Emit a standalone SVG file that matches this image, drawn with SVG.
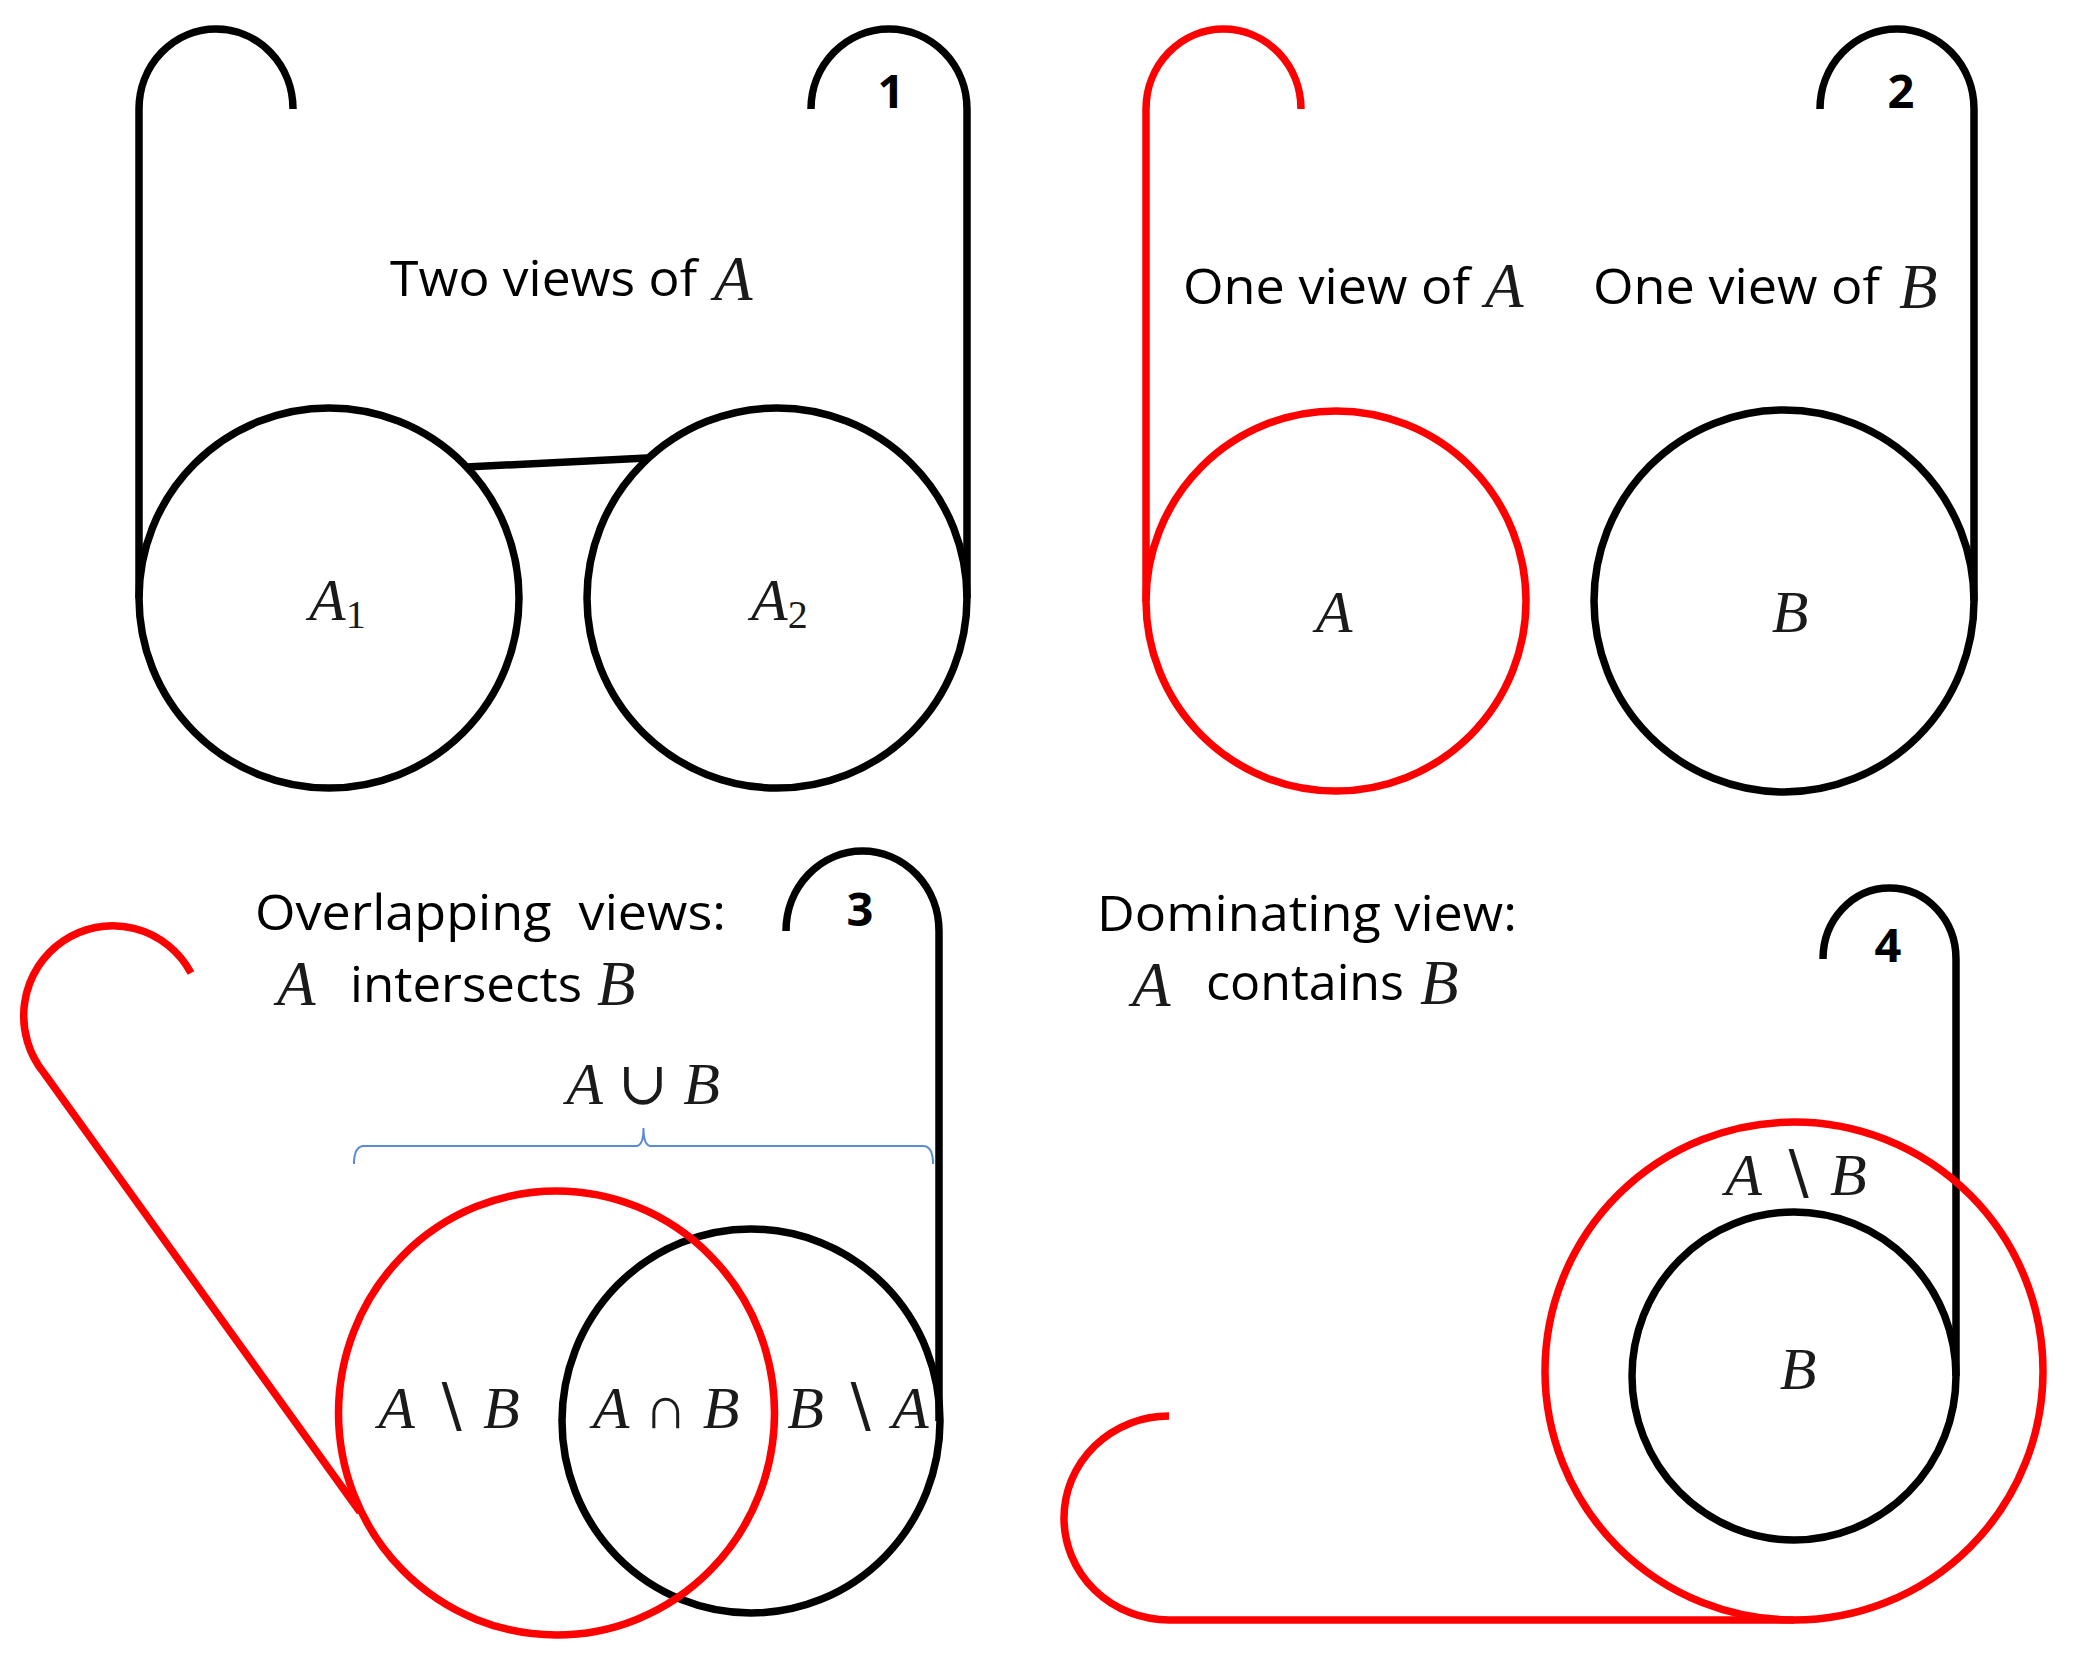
<svg xmlns="http://www.w3.org/2000/svg" width="2074" height="1664" viewBox="0 0 2074 1664">
<style>
.k{fill:none;stroke:#000;stroke-width:7.5}
.r{fill:none;stroke:#f00;stroke-width:7.5}
.br{fill:none;stroke:#5b8bd0;stroke-width:2}
.s{font-family:"Open Sans","Noto Sans","Liberation Sans",sans-serif;font-size:49px;fill:#000}
.n{font-family:"Open Sans","Liberation Sans",sans-serif;font-size:47px;font-weight:bold;fill:#000}
.m{font-family:"Liberation Serif","DejaVu Serif",serif;font-size:60px;fill:#1a1a1a}
.h{font-size:63px}
.i{font-style:italic}
</style>
<rect width="2074" height="1664" fill="#fff"/>
<g id="connectors">
<path class="k" d="M139,598 V109 A77,80 0 0 1 293,109"/>
<path class="k" d="M811,109 A78,80 0 0 1 967,109 V598"/>
<line class="k" x1="466" y1="467" x2="647" y2="458"/>
<path class="r" d="M1146,601 V109 A77.5,80 0 0 1 1301,109"/>
<path class="k" d="M1820,109 A77,80 0 0 1 1974,109 V601"/>
<path class="k" d="M786,931 A76.5,80 0 0 1 939,931 V1421"/>
<path class="r" d="M191,973 A89,90 0 1 0 44,1073 L360,1512"/>
<path class="k" d="M1823,959 A66.5,71 0 0 1 1956,959 V1376"/>
<path class="r" d="M1169,1416 A105,102 0 0 0 1169,1620 H1794"/>
<path class="br" d="M354,1164 Q354,1146 364,1146 H636 Q643.5,1146 643.5,1128 Q643.5,1146 651,1146 H923 Q933,1146 933,1164"/>
</g>
<g id="panel1">
<text class="n" x="891" y="108" text-anchor="middle">1</text>
<text class="s" x="390" y="296" textLength="307" lengthAdjust="spacingAndGlyphs">Two views of</text>
<text class="m h i" x="714" y="300">A</text>
</g>
<g id="A1">
<ellipse class="k" cx="329" cy="598" rx="190" ry="190"/>
<text class="m" x="309" y="620"><tspan class="i">A</tspan><tspan font-size="40" y="628">1</tspan></text>
</g>
<g id="A2">
<ellipse class="k" cx="777" cy="598" rx="190" ry="190"/>
<text class="m" x="751" y="620"><tspan class="i">A</tspan><tspan font-size="40" y="628">2</tspan></text>
</g>
<g id="panel2">
<text class="n" x="1901" y="108" text-anchor="middle">2</text>
<text class="s" x="1183" y="304" textLength="287" lengthAdjust="spacingAndGlyphs">One view of</text>
<text class="m h i" x="1485" y="307">A</text>
<text class="s" x="1593" y="304" textLength="287" lengthAdjust="spacingAndGlyphs">One view of</text>
<text class="m h i" x="1899" y="308">B</text>
</g>
<g id="A">
<ellipse class="r" cx="1336" cy="601" rx="190" ry="190"/>
<text class="m i" x="1334" y="632" text-anchor="middle">A</text>
</g>
<g id="B">
<ellipse class="k" cx="1784" cy="601" rx="190" ry="191"/>
<text class="m i" x="1790" y="632" text-anchor="middle">B</text>
</g>
<g id="panel3">
<text class="n" x="860" y="926" text-anchor="middle">3</text>
<text class="s" x="255" y="930" textLength="471" lengthAdjust="spacingAndGlyphs" xml:space="preserve">Overlapping  views:</text>
<text class="m h i" x="277" y="1005">A</text>
<text class="s" x="350" y="1002" textLength="232" lengthAdjust="spacingAndGlyphs">intersects</text>
<text class="m h i" x="597" y="1005">B</text>
<text class="m" x="643" y="1104" text-anchor="middle"><tspan class="i">A</tspan> ∪ <tspan class="i">B</tspan></text>
</g>
<g id="B3">
<ellipse class="k" cx="751" cy="1421" rx="189" ry="192"/>
<text class="m" x="858" y="1428" text-anchor="middle"><tspan class="i">B</tspan> ∖ <tspan class="i">A</tspan></text>
</g>
<g id="A3">
<ellipse class="r" cx="556.5" cy="1413" rx="218" ry="222"/>
<text class="m" x="449" y="1428" text-anchor="middle"><tspan class="i">A</tspan> ∖ <tspan class="i">B</tspan></text>
<text class="m" x="666" y="1428" text-anchor="middle"><tspan class="i">A</tspan> ∩ <tspan class="i">B</tspan></text>
</g>
<g id="panel4">
<text class="n" x="1888" y="962" text-anchor="middle">4</text>
<text class="s" x="1097" y="931" textLength="420" lengthAdjust="spacingAndGlyphs">Dominating view:</text>
<text class="m h i" x="1132" y="1006">A</text>
<text class="s" x="1206" y="1000" textLength="198" lengthAdjust="spacingAndGlyphs">contains</text>
<text class="m h i" x="1420" y="1004">B</text>
</g>
<g id="A4">
<ellipse class="r" cx="1794" cy="1371" rx="249" ry="249"/>
<text class="m" x="1796" y="1195" text-anchor="middle"><tspan class="i">A</tspan> ∖ <tspan class="i">B</tspan></text>
</g>
<g id="B4">
<ellipse class="k" cx="1794" cy="1376" rx="162" ry="164"/>
<text class="m i" x="1798" y="1389" text-anchor="middle">B</text>
</g>
</svg>
